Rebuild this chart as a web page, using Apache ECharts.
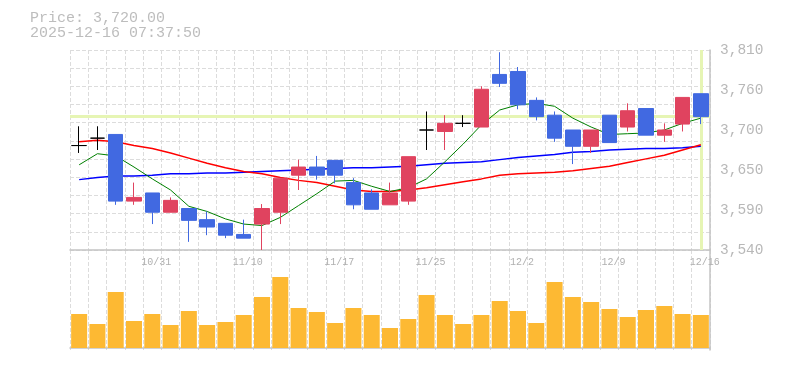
<!DOCTYPE html>
<html>
<head>
<meta charset="utf-8">
<script src="https://cdn.jsdelivr.net/npm/echarts@6/dist/echarts.min.js"></script>
<style>
html,body{margin:0;padding:0;background:#fff;}
#chart{width:785px;height:370px;}
</style>
</head>
<body>
<div id="chart"></div>
<script>
// ---- data ----
const priceText = 'Price: 3,720.00';
const timeText = '2025-12-16 07:37:50';
const currentPrice = 3720;
const lastDate = '12/16';

const dates = ['10/27','10/28','10/29','10/30','10/31','11/4','11/5','11/6','11/7','11/10',
  '11/11','11/12','11/13','11/14','11/17','11/18','11/19','11/20','11/21','11/25',
  '11/26','11/27','11/28','12/1','12/2','12/3','12/4','12/5','12/8','12/9',
  '12/10','12/11','12/12','12/15','12/16'];

const open  = [3681,3691,3696,3606,3617,3591,3596,3581,3576,3561,3575,3591,3641,3652,3661,3631,3617,3601,3606,3702,3700,3711,3706,3777,3781,3742,3722,3702,3680,3722,3706,3731,3695,3710,3751];
const close = [3681,3691,3606,3611,3591,3607,3580,3571,3560,3556,3596,3637,3652,3641,3641,3601,3595,3617,3666,3702,3711,3711,3757,3765,3736,3720,3691,3680,3702,3685,3728,3695,3702,3746,3720];
const high  = [3707,3707,3696,3631,3617,3611,3596,3592,3576,3581,3602,3637,3662,3667,3661,3637,3622,3631,3666,3727,3722,3722,3761,3807,3787,3746,3727,3702,3702,3722,3738,3731,3711,3746,3751];
const low   = [3671,3675,3601,3601,3575,3591,3551,3560,3556,3556,3540,3575,3621,3635,3630,3595,3595,3601,3601,3675,3675,3706,3706,3760,3730,3715,3686,3656,3671,3685,3700,3695,3686,3700,3710];

const ma5  = [3655,3670,3667,3652,3636,3621,3599,3592,3582,3575,3573,3584,3600,3616,3633,3634,3626,3619,3624,3636,3659,3683,3709,3729,3736,3738,3734,3718,3706,3696,3697,3698,3702,3711,3718];
const ma25 = [3686,3688,3686,3681,3677,3671,3664,3657,3651,3646,3643,3638,3634,3631,3626,3621,3619,3619,3621,3624,3628,3632,3636,3641,3643,3644,3645,3647,3650,3653,3658,3663,3668,3675,3682];
const ma75 = [3635,3638,3640,3640,3641,3643,3643,3644,3644,3645,3646,3647,3648,3649,3650,3651,3651,3652,3653,3655,3657,3658,3659,3662,3665,3667,3669,3672,3673,3675,3676,3677,3677,3678,3680];

const volume = [34000,24000,56000,27000,34000,23000,37000,23000,26000,33000,51000,71000,40000,36000,25000,40000,33000,20000,29000,53000,33000,24000,33000,47000,37000,25000,66000,51000,46000,39000,31000,38000,42000,34000,33000];

const yTickLabels = ['3,540','3,590','3,650','3,700','3,760','3,810'];

// ---- chart ----
const UP = '#e0435f', DOWN = '#4169e1', DOJI = '#000000';
const gridLine = {show:true, interval:0, lineStyle:{color:'#dcdcdc', width:1, type:[4,2]}};
const axisLineStyle = {show:true, lineStyle:{color:'#c4c4c4', width:1.5}};
const mono = '"Liberation Mono", "DejaVu Sans Mono", monospace';

const candleData = dates.map((d, i) => {
  const item = {value:[open[i], close[i], low[i], high[i]]};
  if (open[i] === close[i]) {
    item.itemStyle = {color:DOJI, color0:DOJI, borderColor:DOJI, borderColor0:DOJI, borderColorDoji:DOJI};
  }
  return item;
});

const chart = echarts.init(document.getElementById('chart'), null, {renderer:'canvas'});
chart.setOption({
  animation:false,
  backgroundColor:'#fff',
  graphic:[
    {type:'text', x:30, y:18, style:{text:priceText, font:'15px ' + mono, fill:'#bdbdbd', verticalAlign:'middle'}},
    {type:'text', x:30, y:33, style:{text:timeText, font:'15px ' + mono, fill:'#bdbdbd', verticalAlign:'middle'}}
  ],
  grid:[
    {left:70, right:75, top:50, height:200},
    {left:70, right:75, top:250, height:100}
  ],
  xAxis:[
    {type:'category', gridIndex:0, data:dates, boundaryGap:true,
     axisLine:axisLineStyle, axisTick:{show:false},
     axisLabel:{interval:(i)=> i % 5 === 4, color:'#b0b0b0', fontFamily:mono, fontSize:10, margin:7, padding:[0,0,0,8]},
     splitLine:gridLine},
    {type:'category', gridIndex:1, data:dates, boundaryGap:true,
     axisLine:axisLineStyle, axisTick:{show:false}, axisLabel:{show:false},
     splitLine:gridLine}
  ],
  yAxis:[
    {type:'value', gridIndex:0, position:'right', min:3540, max:3810, interval:54, scale:true,
     axisLine:axisLineStyle, axisTick:{show:false}, splitLine:{show:false},
     axisLabel:{formatter:(v, idx)=> yTickLabels[idx], margin:10, color:'#b8b8b8', fontFamily:mono, fontSize:14.5}},
    {type:'value', gridIndex:0, position:'left', min:0, max:11, interval:1,
     axisLine:{show:false}, axisTick:{show:false}, axisLabel:{show:false},
     splitLine:{show:true, lineStyle:{color:'#dcdcdc', width:1, type:[4,2]}}},
    {type:'value', gridIndex:1, position:'right', min:-2000, max:98000,
     axisLine:axisLineStyle, axisTick:{show:false}, axisLabel:{show:false}, splitLine:{show:false}}
  ],
  series:[
    {type:'line', xAxisIndex:0, yAxisIndex:0, data:[], z:1, silent:true,
     markLine:{silent:true, z:1, symbol:'none', label:{show:false}, animation:false,
       lineStyle:{color:'#e6f5b4', width:3, type:'solid'},
       data:[{yAxis:currentPrice}, {xAxis:lastDate}]}},
    {type:'line', xAxisIndex:0, yAxisIndex:0, data:ma75, symbol:'none', z:2, lineStyle:{color:'#0000ff', width:1.5}},
    {type:'line', xAxisIndex:0, yAxisIndex:0, data:ma25, symbol:'none', z:2, lineStyle:{color:'#ff0000', width:1.5}},
    {type:'line', xAxisIndex:0, yAxisIndex:0, data:ma5, symbol:'none', z:2, lineStyle:{color:'#008000', width:1}},
    {type:'candlestick', xAxisIndex:0, yAxisIndex:0, data:candleData, barWidth:15, z:3,
     itemStyle:{color:UP, color0:DOWN, borderColor:UP, borderColor0:DOWN, borderColorDoji:DOJI, borderWidth:1}},
    {type:'bar', xAxisIndex:1, yAxisIndex:2, data:volume, barWidth:16, itemStyle:{color:'#fdb933'}}
  ]
});
</script>
</body>
</html>
